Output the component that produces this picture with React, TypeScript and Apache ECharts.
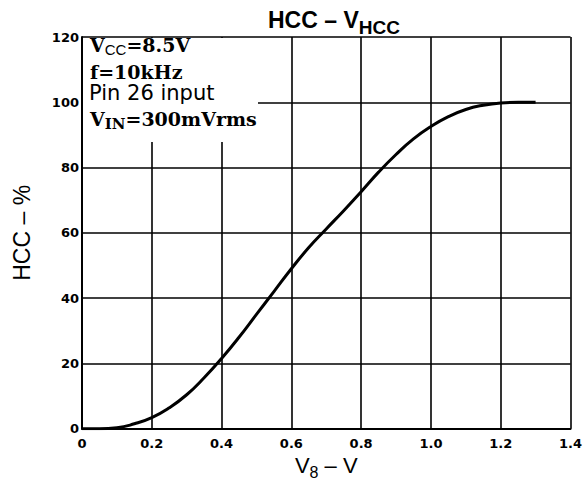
import React, { useEffect, useRef } from "react";
import * as echarts from "echarts";

const xValues = [0, 0.05, 0.1, 0.15, 0.2, 0.25, 0.3, 0.35, 0.4, 0.45, 0.5, 0.55, 0.6, 0.65, 0.7, 0.75, 0.8, 0.85, 0.9, 0.95, 1.0, 1.05, 1.1, 1.15, 1.2, 1.25, 1.3];
const hccValues = [0, 0, 0.3, 1.5, 3.4, 6.4, 10.4, 15.6, 21.5, 28, 35, 42, 49, 55.5, 61.2, 66.8, 72.6, 78.6, 84, 88.8, 92.6, 95.6, 97.8, 99.1, 99.8, 100, 100];
const xTicks = [0, 0.2, 0.4, 0.6, 0.8, 1.0, 1.2, 1.4];
const yTicks = [0, 20, 40, 60, 80, 100, 120];

const serif = "'DejaVu Serif'";
const sans = "'Liberation Sans', Arial, sans-serif";

export default function App() {
  const ref = useRef<HTMLDivElement>(null);
  useEffect(() => {
    if (!ref.current) return;
    const chart = echarts.init(ref.current, null, { renderer: "svg" });
    const data = xValues.map((x, i) => [x, hccValues[i]]);
    const serifMain = { fontFamily: serif, fontWeight: "bold", fontSize: 19, lineHeight: 19, verticalAlign: "top", fill: "#000", color: "#000" };
    chart.setOption({
      animation: false,
      backgroundColor: "#fff",
      title: {
        text: "{m|HCC – V}{sub|HCC}",
        left: 268,
        top: 8.7,
        padding: 0,
        textStyle: {
          rich: {
            m: { fontFamily: sans, fontWeight: "bold", fontSize: 23, lineHeight: 23, verticalAlign: "top", color: "#000" },
            sub: { fontFamily: sans, fontWeight: "bold", fontSize: 19, lineHeight: 19, padding: [9.6, 0, 0, 0], verticalAlign: "top", color: "#000" },
          },
          fontFamily: sans,
          fontWeight: "bold",
          fontSize: 23,
          color: "#000",
        },
      },
      grid: { left: 82, right: 13, top: 37, bottom: 53, containLabel: false },
      xAxis: {
        type: "value",
        min: xTicks[0],
        max: xTicks[xTicks.length - 1],
        interval: 0.2,
        name: "{m|V}{sub|8}{m| – V}",
        nameLocation: "middle",
        nameGap: 22,
        nameTextStyle: {
          fontFamily: sans,
          fontSize: 22,
          color: "#000",
          rich: {
            m: { fontFamily: sans, fontSize: 22, lineHeight: 22, verticalAlign: "top", color: "#000" },
            sub: { fontFamily: sans, fontSize: 16, lineHeight: 16, padding: [10.4, 0, 0, 0], verticalAlign: "top", color: "#000" },
          },
        },
        axisLine: { show: true, lineStyle: { color: "#000", width: 2 } },
        axisTick: { show: false },
        axisLabel: {
          margin: 8,
          fontFamily: "'DejaVu Sans'",
          fontWeight: "bold",
          fontSize: 13,
          color: "#000",
          formatter: (v: number) => (v === 0 ? "0" : v.toFixed(1)),
        },
        splitLine: { show: true, lineStyle: { color: "#000", width: 1.6 } },
      },
      yAxis: {
        type: "value",
        min: yTicks[0],
        max: yTicks[yTicks.length - 1],
        interval: 20,
        name: "HCC – %",
        nameLocation: "middle",
        nameGap: 49,
        nameTextStyle: { fontFamily: sans, fontSize: 23, color: "#000" },
        axisLine: { show: true, lineStyle: { color: "#000", width: 2 } },
        axisTick: { show: false },
        axisLabel: {
          margin: 3,
          fontFamily: "'DejaVu Sans'",
          fontWeight: "bold",
          fontSize: 13,
          color: "#000",
        },
        splitLine: { show: true, lineStyle: { color: "#000", width: 1.6 } },
      },
      graphic: [
        { type: "rect", z: 10, shape: { x: 83, y: 38, width: 175, height: 104 }, style: { fill: "#fff" } },
        {
          type: "text", z: 11, x: 90, y: 35.5,
          style: {
            text: "{m|V}{sub|CC}{m|=8.5V}",
            fill: "#000",
            rich: { m: serifMain, sub: { fontFamily: sans, fontSize: 15, lineHeight: 15, padding: [6.5, 0, 0, 0], verticalAlign: "top", fill: "#000" } },
          },
        },
        {
          type: "text", z: 11, x: 90, y: 62,
          style: { text: "f=10kHz", font: `bold 19px ${serif}`, lineHeight: 19, fill: "#000", verticalAlign: "top" },
        },
        {
          type: "text", z: 11, x: 89, y: 82,
          style: { text: "Pin 26 input", font: `21px 'DejaVu Sans'`, lineHeight: 21, fill: "#000", verticalAlign: "top" },
        },
        {
          type: "text", z: 11, x: 90, y: 109,
          style: {
            text: "{m|V}{sub|IN}{m|=300mVrms}",
            fill: "#000",
            rich: { m: serifMain, sub: { fontFamily: serif, fontWeight: "bold", fontSize: 15, lineHeight: 15, padding: [7.7, 0, 0, 0], verticalAlign: "top", fill: "#000" } },
          },
        },
      ],
      series: [
        {
          type: "line",
          data,
          smooth: true,
          showSymbol: false,
          lineStyle: { color: "#000", width: 3 },
          z: 3,
        },
      ],
    });
    return () => chart.dispose();
  }, []);
  return <div ref={ref} style={{ width: 585, height: 486, position: "absolute", left: 0, top: 0 }} />;
}
